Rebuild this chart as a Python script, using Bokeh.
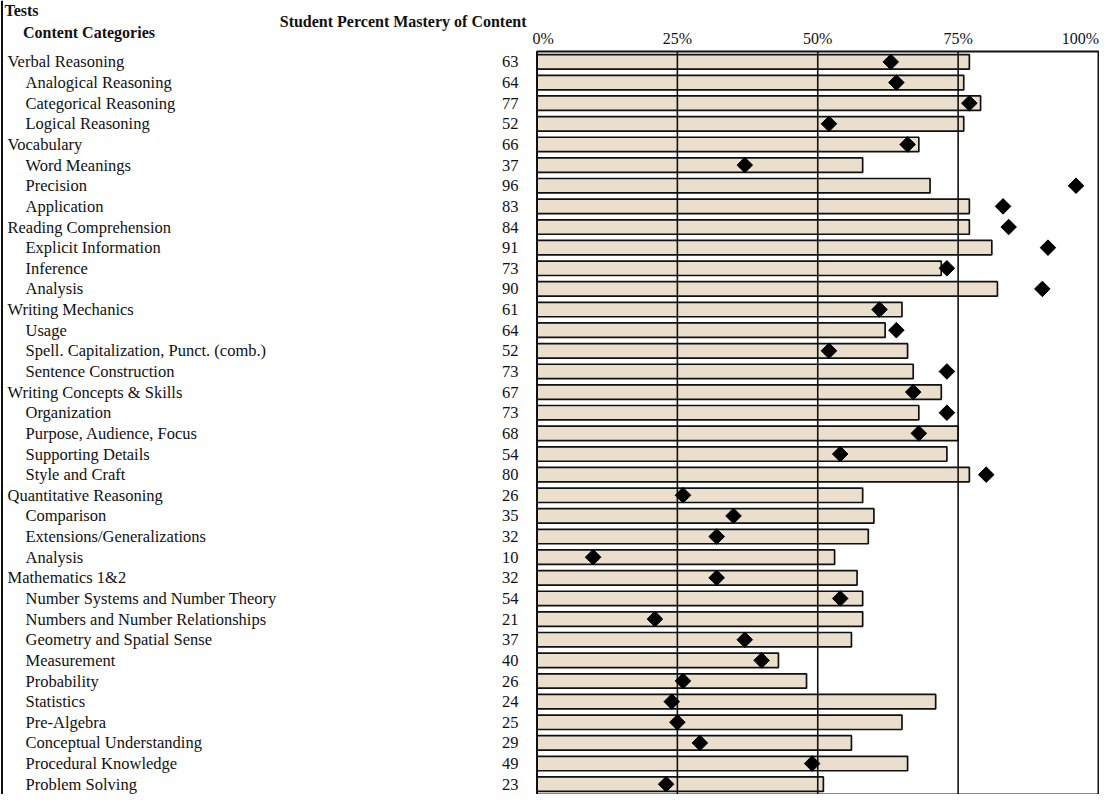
import math
from bokeh.plotting import figure
from bokeh.models import Range1d, ColumnDataSource
from bokeh.core.properties import value
from bokeh.embed import file_html
from bokeh.resources import INLINE

# ---------------- data ----------------
categories = [
    "Verbal Reasoning", "Analogical Reasoning", "Categorical Reasoning", "Logical Reasoning",
    "Vocabulary", "Word Meanings", "Precision", "Application",
    "Reading Comprehension", "Explicit Information", "Inference", "Analysis",
    "Writing Mechanics", "Usage", "Spell. Capitalization, Punct. (comb.)", "Sentence Construction",
    "Writing Concepts & Skills", "Organization", "Purpose, Audience, Focus", "Supporting Details", "Style and Craft",
    "Quantitative Reasoning", "Comparison", "Extensions/Generalizations", "Analysis",
    "Mathematics 1&2", "Number Systems and Number Theory", "Numbers and Number Relationships",
    "Geometry and Spatial Sense", "Measurement", "Probability", "Statistics", "Pre-Algebra",
    "Conceptual Understanding", "Procedural Knowledge", "Problem Solving",
]
levels = [0, 1, 1, 1,
          0, 1, 1, 1,
          0, 1, 1, 1,
          0, 1, 1, 1,
          0, 1, 1, 1, 1,
          0, 1, 1, 1,
          0, 1, 1, 1, 1, 1, 1, 1, 1, 1, 1]
mastery = [63, 64, 77, 52,
           66, 37, 96, 83,
           84, 91, 73, 90,
           61, 64, 52, 73,
           67, 73, 68, 54, 80,
           26, 35, 32, 10,
           32, 54, 21, 37, 40, 26, 24, 25, 29, 49, 23]
bar_values = [77, 76, 79, 76,
              68, 58, 70, 77,
              77, 81, 72, 82,
              65, 62, 66, 67,
              72, 68, 75, 73, 77,
              58, 60, 59, 53,
              57, 58, 58, 56, 43, 48, 71, 65, 56, 66, 51]
tick_values = [0, 25, 50, 75, 100]
tick_labels = ["0%", "25%", "50%", "75%", "100%"]
header_tests = "Tests"
header_categories = "Content Categories"
header_mastery = "Student Percent Mastery of Content"

# ---------------- layout (screen px) ----------------
W, H = 1099, 794
K = H / 808.0                      # vertical compression to fit the window
FL, FR, FT, FB = 536.5, 1098.0, 52.0 * K, 794.0
n = len(categories)
xs = (FR - FL) / 100.0
ys = (FB - FT) / n
x_start = -FL / xs
x_end = 100 + (W - FR) / xs
y_top = -0.5 - FT / ys
y_bot = n - 0.5 + (H - FB) / ys

def X(px):
    return x_start + px / xs

def Y(py):
    return y_top + (py * K) / ys

FONT = value("Liberation Serif")
INK = "#111111"
BAR_FILL = "#EADFCC"

p = figure(width=W, height=H,
           x_range=Range1d(x_start, x_end), y_range=Range1d(y_bot, y_top),
           output_backend="svg", toolbar_location=None,
           x_axis_location=None, y_axis_location=None, min_border=0)
p.outline_line_color = None
p.grid.grid_line_color = None
p.background_fill_color = "white"
p.border_fill_color = "white"

rows = list(range(n))
src = ColumnDataSource(dict(y=rows, bar=bar_values, m=mastery,
                            label=categories,
                            lx=[X(7 + 18 * lv) for lv in levels],
                            nx=[X(518)] * n,
                            num=[str(v) for v in mastery]))

# bars
p.hbar(y="y", left=0, right="bar", height=0.7, source=src,
       fill_color=BAR_FILL, line_color=INK, line_width=1.7)

# inner gridlines
inner = tick_values[1:-1]
p.segment(x0=inner, x1=inner, y0=[-0.5] * len(inner), y1=[n - 0.5] * len(inner),
          line_color=INK, line_width=1.6)

# frame box
p.quad(left=[tick_values[0]], right=[tick_values[-1]], top=[-0.5], bottom=[n - 0.5],
       fill_color=None, line_color=INK, line_width=2)

# diamonds
p.scatter(x="m", y="y", source=src, marker="square", angle=math.pi / 4,
          size=11, fill_color="black", line_color="black")

# left border line
p.segment(x0=[X(1.5)], x1=[X(1.5)], y0=[y_top], y1=[y_bot], line_color=INK, line_width=2)

# row labels
p.text(x="lx", y="y", text="label", source=src, text_font=FONT, text_font_size="16.5px",
       text_baseline="middle", text_align="left", text_color=INK)
p.text(x="nx", y="y", text="num", source=src, text_font=FONT,
       text_font_size="16.5px", text_baseline="middle", text_align="right", text_color=INK)

# headers
p.text(x=[X(4)], y=[Y(10.5)], text=[header_tests], text_font=FONT, text_font_size="16px",
       text_font_style="bold", text_baseline="middle", text_align="left", text_color=INK)
p.text(x=[X(22.5)], y=[Y(33)], text=[header_categories], text_font=FONT, text_font_size="16px",
       text_font_style="bold", text_baseline="middle", text_align="left", text_color=INK)
p.text(x=[X(526)], y=[Y(21.5)], text=[header_mastery], text_font=FONT, text_font_size="16px",
       text_font_style="bold", text_baseline="middle", text_align="right", text_color=INK)

# tick labels
ty = Y(38.5)
p.text(x=[X(532)], y=[ty], text=[tick_labels[0]], text_font=FONT, text_font_size="16px",
       text_baseline="middle", text_align="left", text_color=INK)
p.text(x=inner, y=[ty] * len(inner), text=tick_labels[1:-1], text_font=FONT, text_font_size="16px",
       text_baseline="middle", text_align="center", text_color=INK)
p.text(x=[X(1098.5)], y=[ty], text=[tick_labels[-1]], text_font=FONT, text_font_size="16px",
       text_baseline="middle", text_align="right", text_color=INK)

open("out.html", "w").write(file_html(p, INLINE))
